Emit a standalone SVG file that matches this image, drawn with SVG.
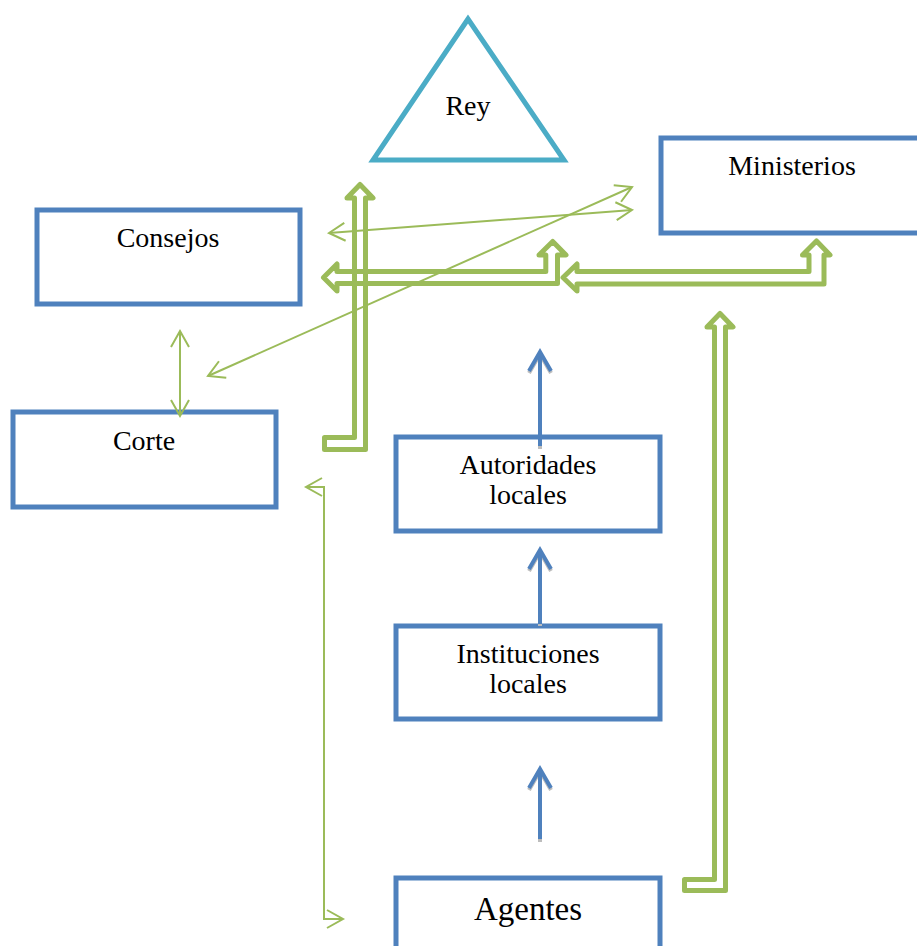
<svg xmlns="http://www.w3.org/2000/svg" width="917" height="946" viewBox="0 0 917 946">
  <style>
    .box { fill: #ffffff; stroke: #4F81BD; stroke-width: 5; }
    .tri { fill: #ffffff; stroke: #4BACC6; stroke-width: 5; stroke-linejoin: miter; }
    .label { font-family: "Liberation Serif", "Times New Roman", serif; font-size: 28px; fill: #000000; text-anchor: middle; }
    .big { font-size: 33px; }
    .hollow { fill: none; stroke: #9BBB59; stroke-width: 5; stroke-linejoin: round; }
    .thin { fill: none; stroke: #9BBB59; stroke-width: 2; }
    .blue { fill: none; stroke: #4F81BD; stroke-width: 4; }
    .shadow { fill: none; stroke: #BDBDBD; stroke-width: 4; }
  </style>
  <defs>
    <marker id="openHead" viewBox="-20 -12 24 24" refX="0" refY="0" markerWidth="24" markerHeight="24" markerUnits="userSpaceOnUse" orient="auto-start-reverse">
      <path d="M-16,-9 L0,0 L-16,9" fill="none" stroke="#9BBB59" stroke-width="2"/>
    </marker>
    <marker id="blueHead" viewBox="-24 -14 28 28" refX="0" refY="0" markerWidth="28" markerHeight="28" markerUnits="userSpaceOnUse" orient="auto">
      <path d="M-19,-11 L0,0 L-19,11" fill="none" stroke="#4F81BD" stroke-width="4"/>
    </marker>
    <marker id="shadowHead" viewBox="-24 -14 28 28" refX="0" refY="0" markerWidth="28" markerHeight="28" markerUnits="userSpaceOnUse" orient="auto">
      <path d="M-19,-11 L0,0 L-19,11" fill="none" stroke="#BDBDBD" stroke-width="4"/>
    </marker>
  </defs>

  <rect width="917" height="946" fill="#ffffff"/>

  <!-- nodes -->
  <g id="rey">
    <polygon class="tri" points="468,19 373,160 564,160"/>
    <text class="label" x="468" y="115">Rey</text>
  </g>
  <g id="ministerios">
    <rect class="box" x="661" y="138" width="270" height="95"/>
    <text class="label" x="792" y="175">Ministerios</text>
  </g>
  <g id="consejos">
    <rect class="box" x="37" y="210" width="263" height="94"/>
    <text class="label" x="168" y="247">Consejos</text>
  </g>
  <g id="corte">
    <rect class="box" x="13" y="412" width="263" height="95"/>
    <text class="label" x="144" y="450">Corte</text>
  </g>
  <g id="autoridades">
    <rect class="box" x="396" y="437" width="264" height="94"/>
    <text class="label" x="528" y="474">Autoridades</text>
    <text class="label" x="528" y="504">locales</text>
  </g>
  <g id="instituciones">
    <rect class="box" x="396" y="626" width="264" height="93"/>
    <text class="label" x="528" y="663">Instituciones</text>
    <text class="label" x="528" y="693">locales</text>
  </g>
  <g id="agentes">
    <rect class="box" x="396" y="878" width="264" height="90"/>
    <text class="label big" x="528" y="920">Agentes</text>
  </g>

  <!-- connectors -->
  <g id="connectors">
    <!-- blue upward arrows (with soft shadow) -->
    <line class="shadow" x1="540" y1="449" x2="540" y2="354" marker-end="url(#shadowHead)"/>
    <line class="blue" x1="540" y1="446" x2="540" y2="352" marker-end="url(#blueHead)"/>
    <line class="shadow" x1="540" y1="626" x2="540" y2="552" marker-end="url(#shadowHead)"/>
    <line class="blue" x1="540" y1="624" x2="540" y2="550" marker-end="url(#blueHead)"/>
    <line class="shadow" x1="540" y1="842" x2="540" y2="771" marker-end="url(#shadowHead)"/>
    <line class="blue" x1="540" y1="839" x2="540" y2="769" marker-end="url(#blueHead)"/>

    <!-- hollow block arrows -->
    <path class="hollow" d="M324.5,437.5 L354.5,437.5 L354.5,198 L347,198 L360,184.5 L373,198 L365.5,198 L365.5,449.5 L324.5,449.5 Z"/>
    <path class="hollow" d="M337,271.5 L545.8,271.5 L545.8,255 L539,255 L552.7,241.5 L566,255 L557.5,255 L557.5,283.5 L337,283.5 L337,291 L323.5,277.5 L337,264 Z"/>
    <path class="hollow" d="M577,271.5 L809,271.5 L809,255 L802.5,255 L816.5,241 L830,255 L824,255 L824,284 L577,284 L577,291 L563,277.5 L577,264 Z"/>
    <path class="hollow" d="M684.5,879.5 L714.5,879.5 L714.5,327 L707,327 L720,313.5 L733,327 L725.5,327 L725.5,890.5 L684.5,890.5 Z"/>

    <!-- thin two-way links -->
    <line class="thin" x1="329" y1="233" x2="632" y2="210" marker-start="url(#openHead)" marker-end="url(#openHead)"/>
    <line class="thin" x1="208" y1="376" x2="632" y2="187" marker-start="url(#openHead)" marker-end="url(#openHead)"/>
    <line class="thin" x1="180" y1="331" x2="180" y2="416" marker-start="url(#openHead)" marker-end="url(#openHead)"/>
    <polyline class="thin" points="306,487 324,487 324,919 343,919" marker-start="url(#openHead)" marker-end="url(#openHead)"/>
  </g>
</svg>
